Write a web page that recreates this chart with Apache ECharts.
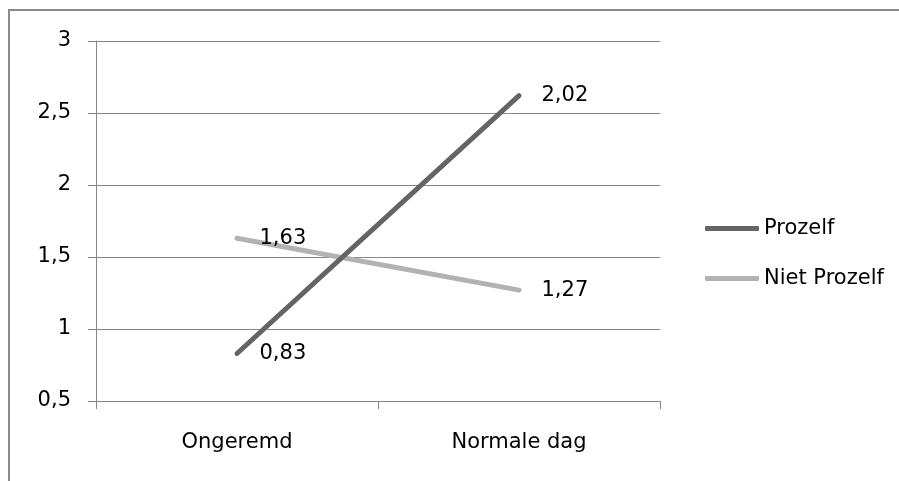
<!DOCTYPE html>
<html>
<head>
<meta charset="utf-8">
<script src="https://cdn.jsdelivr.net/npm/echarts@6/dist/echarts.min.js"></script>
<style>
html,body{margin:0;padding:0;background:#fff;}
#chart{width:899px;height:481px;}
</style>
</head>
<body>
<div id="chart"></div>
<script>
const categories = ["Ongeremd", "Normale dag"];
const prozelf = [0.83, 2.62];
const nietProzelf = [1.63, 1.27];
const prozelfLabels = ["0,83", "2,02"];
const nietProzelfLabels = ["1,63", "1,27"];
const yTicks = { min: 0.5, max: 3, interval: 0.5 };

const FONT = "DejaVu Sans";
const FS = 21;
const chart = echarts.init(document.getElementById('chart'));
function fmt(v){ return String(v).replace('.', ','); }

chart.setOption({
  animation: false,
  backgroundColor: '#ffffff',
  textStyle: { fontFamily: FONT },
  graphic: [{
    type: 'rect',
    shape: { x: 9, y: 10, width: 1000, height: 1000 },
    style: { fill: 'none', stroke: '#8a8a8a', lineWidth: 2 },
    silent: true
  }],
  grid: { left: 96, right: 239, top: 41, bottom: 80 },
  legend: {
    orient: 'vertical',
    left: 700,
    top: 213,
    itemGap: 29,
    itemWidth: 54,
    itemHeight: 5,
    icon: 'roundRect',
    textStyle: { fontFamily: FONT, fontSize: FS, color: '#000' },
    data: ['Prozelf', 'Niet Prozelf']
  },
  xAxis: {
    type: 'category',
    data: categories,
    boundaryGap: true,
    axisLine: { lineStyle: { color: '#868686', width: 1 } },
    axisTick: { show: true, length: 8, interval: 0, lineStyle: { color: '#868686' } },
    axisLabel: { fontFamily: FONT, fontSize: FS, color: '#000', margin: 31 },
    splitLine: { show: false }
  },
  yAxis: {
    type: 'value',
    min: yTicks.min,
    max: yTicks.max,
    interval: yTicks.interval,
    axisLine: { show: true, lineStyle: { color: '#868686', width: 1 } },
    axisTick: { show: true, length: 8, lineStyle: { color: '#868686' } },
    axisLabel: { fontFamily: FONT, fontSize: FS, color: '#000', margin: 25, formatter: fmt },
    splitLine: { show: true, lineStyle: { color: '#868686', width: 1 } }
  },
  series: [
    {
      name: 'Prozelf',
      type: 'line',
      data: prozelf,
      symbol: 'circle',
      symbolSize: 1,
      color: '#646464',
      lineStyle: { color: '#646464', width: 5, cap: 'round' },
      itemStyle: { color: '#646464' },
      label: {
        show: true, position: 'right', distance: 22,
        fontFamily: FONT, fontSize: FS, color: '#000',
        formatter: p => prozelfLabels[p.dataIndex]
      },
      z: 3
    },
    {
      name: 'Niet Prozelf',
      type: 'line',
      data: nietProzelf,
      symbol: 'circle',
      symbolSize: 1,
      color: '#b2b2b2',
      lineStyle: { color: '#b2b2b2', width: 5, cap: 'round' },
      itemStyle: { color: '#b2b2b2' },
      label: {
        show: true, position: 'right', distance: 22,
        fontFamily: FONT, fontSize: FS, color: '#000',
        formatter: p => nietProzelfLabels[p.dataIndex]
      },
      z: 2
    }
  ]
});
</script>
</body>
</html>
